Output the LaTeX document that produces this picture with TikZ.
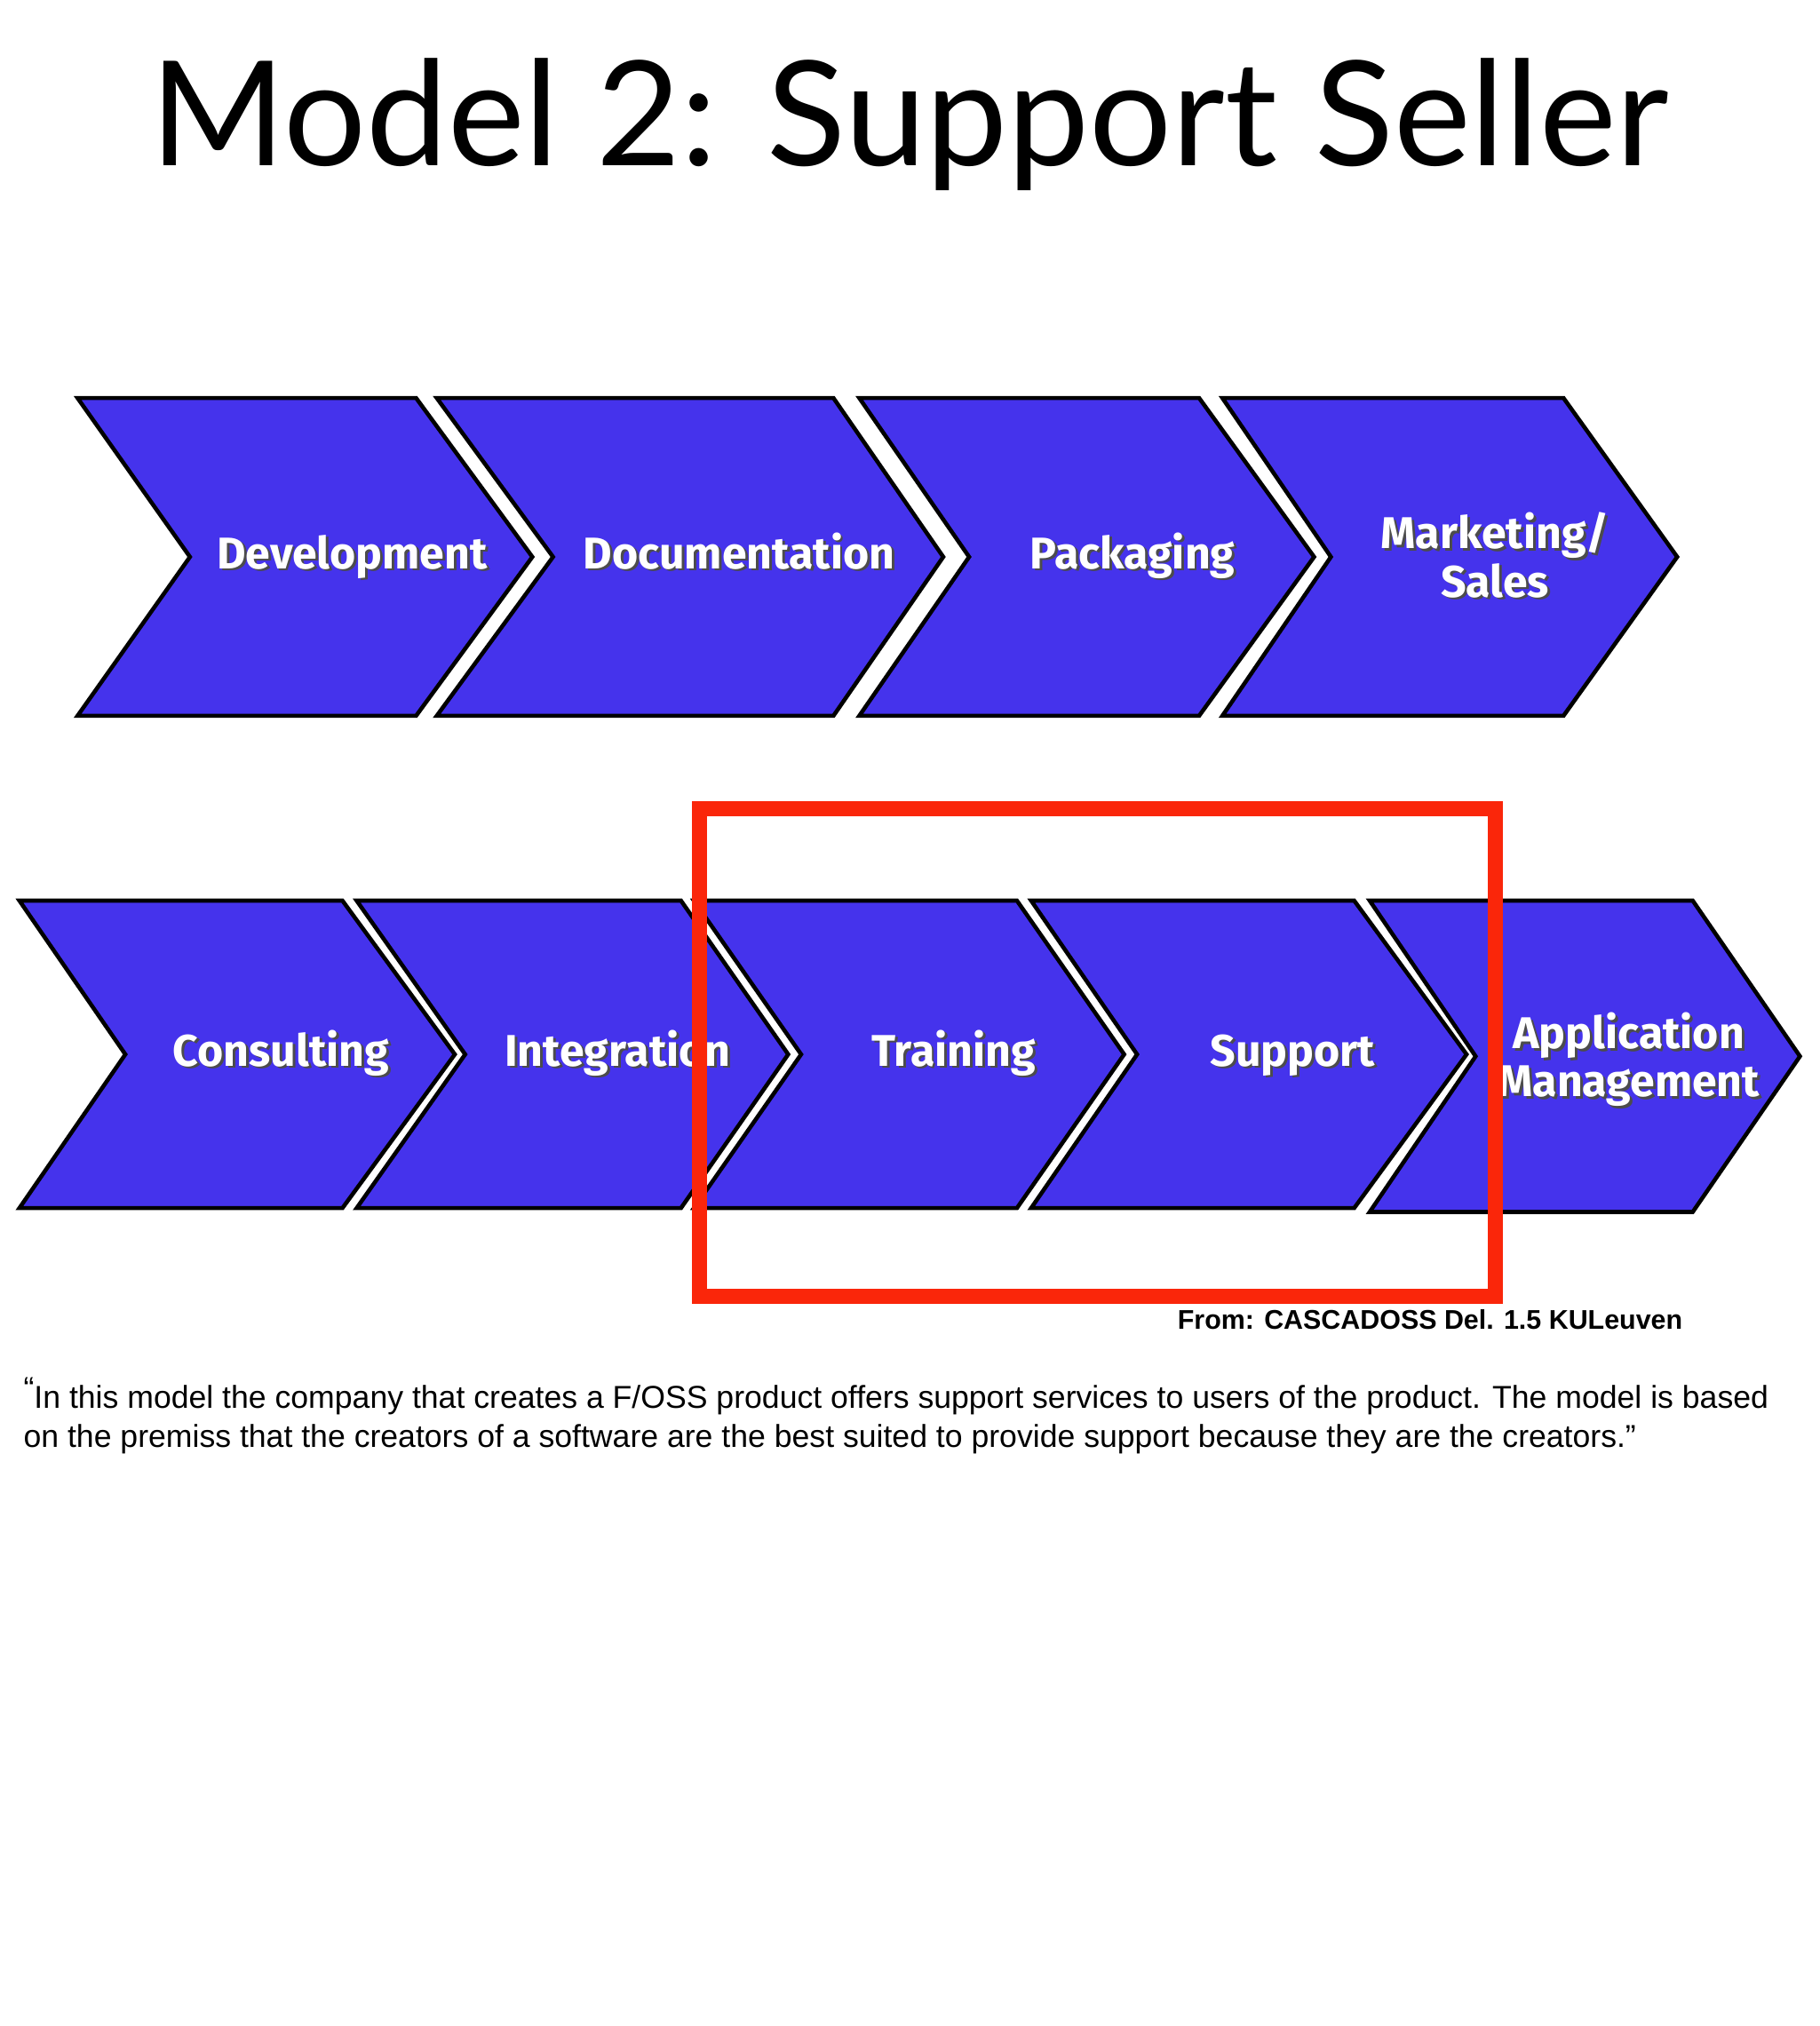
\documentclass[tikz,border=0pt]{standalone}
\usepackage{fontspec}
\setmainfont{Liberation Sans}
\newfontfamily\titlefont{Lato}
\newfontfamily\chevfont{Fira Sans}[UprightFont={* Bold}]
\definecolor{chev}{RGB}{69,51,236}
\definecolor{redbox}{RGB}{250,38,10}
\tikzset{chevshape/.style={fill=chev,draw=black,line width=2.3pt,line join=miter},
 chevtext/.style={text=white,font=\chevfont\fontsize{25}{27}\selectfont,align=center,text height=18pt,text depth=5pt},
 chevshadow/.style={chevtext,text=black!70}}
\newcommand{\chevron}[9]{% name, xl, notch, xr, tip, ytop, ybot, text, yshift
 \draw[chevshape] (#2,#6) -- (#4,#6) -- (#5,{(#6+#7)/2}) -- (#4,#7) -- (#2,#7) -- (#3,{(#6+#7)/2}) -- cycle;
 \node[chevshadow] at ({(#3+#5)/2-5},{(#6+#7)/2+2+#9}) {#8};
 \node[chevtext] (#1) at ({(#3+#5)/2-7},{(#6+#7)/2+#9}) {#8};}
\begin{document}
\begin{tikzpicture}[x=0.727pt,y=-0.727pt]
\useasboundingbox (0,0) rectangle (1408,1568);
\fill[white] (0,0) rectangle (1408,1568);
\node[font=\titlefont\fontsize{82}{90}\selectfont,anchor=base] (title) at (704,128) {Model 2: Support Seller};
\chevron{dev}{60}{147}{322}{412}{308}{554}{Development}{0}
\chevron{doc}{338}{428}{645}{730}{308}{554}{Documentation}{0}
\chevron{pack}{665}{750}{928}{1017}{308}{554}{Packaging}{0}
\chevron{mark}{946}{1030}{1210}{1298}{308}{554}{Marketing/\\Sales}{22}
\chevron{cons}{15}{97}{265}{352}{697}{935}{Consulting}{0}
\chevron{integ}{276}{360}{527}{610}{697}{935}{Integration}{0}
\chevron{train}{537}{620}{787}{870}{697}{935}{Training}{0}
\chevron{supp}{798}{880}{1048}{1135}{697}{935}{Support}{0}
\chevron{app}{1060}{1142}{1310}{1393}{697}{938}{Application\\Management}{22}
\draw[redbox,line width=8.5pt] (541,626) rectangle (1157,1003);
\node[font=\bfseries\fontsize{15.2}{18}\selectfont,anchor=base east] (src) at (1307,1029) {From: CASCADOSS Del. 1.5 KULeuven};
\node[font=\fontsize{17.8}{22}\selectfont,anchor=north west,align=left,inner sep=0pt] (quote) at (18,1066)
 {\raisebox{5pt}{``}In this model the company that creates a F/OSS product offers support services to users of the product. The model is based\\on the premiss that the creators of a software are the best suited to provide support because they are the creators.''};
\end{tikzpicture}
\end{document}
